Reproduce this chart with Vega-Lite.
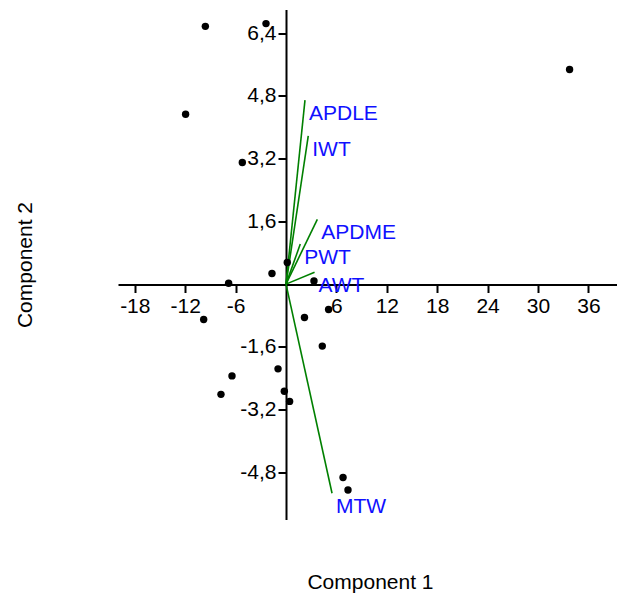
{
  "$schema": "https://vega.github.io/schema/vega-lite/v6.json",
  "width": 504,
  "height": 510,
  "autosize": {"type": "none"},
  "padding": {"left": 118, "top": 9.5, "right": 0, "bottom": 80},
  "background": "white",
  "config": {"view": {"stroke": null}, "font": "Liberation Sans"},
  "datasets": {
    "scores": [
      {"x": -9.6, "y": 6.57},
      {"x": -2.38, "y": 6.64},
      {"x": -11.95, "y": 4.33},
      {"x": -5.2, "y": 3.1},
      {"x": 0.15, "y": 0.55},
      {"x": -1.67, "y": 0.27},
      {"x": -6.83, "y": 0.02},
      {"x": 3.33, "y": 0.08},
      {"x": 33.76, "y": 5.47},
      {"x": -9.8, "y": -0.9},
      {"x": 2.2, "y": -0.85},
      {"x": 5.07, "y": -0.645},
      {"x": 4.32, "y": -1.58},
      {"x": -0.95, "y": -2.16},
      {"x": -6.43, "y": -2.34},
      {"x": -7.74, "y": -2.81},
      {"x": -0.2, "y": -2.73},
      {"x": 0.43, "y": -2.99},
      {"x": 6.79, "y": -4.93},
      {"x": 7.38, "y": -5.25}
    ],
    "loadings": [
      {"name": "APDLE", "x": 2.26, "y": 4.69, "x0": 0, "y0": 0},
      {"name": "IWT", "x": 2.65, "y": 3.78, "x0": 0, "y0": 0},
      {"name": "APDME", "x": 3.73, "y": 1.65, "x0": 0, "y0": 0},
      {"name": "PWT", "x": 1.7, "y": 1.02, "x0": 0, "y0": 0},
      {"name": "AWT", "x": 3.4, "y": 0.3, "x0": 0, "y0": 0},
      {"name": "MTW", "x": 5.48, "y": -5.33, "x0": 0, "y0": 0}
    ]
  },
  "encoding": {
    "x": {
      "field": "x", "type": "quantitative",
      "scale": {"domain": [-20, 40], "nice": false, "zero": false},
      "axis": {
        "title": "Component 1",
        "values": [-18, -12, -6, 6, 12, 18, 24, 30, 36],
        "labelExpr": "toString(datum.value)",
        "offset": -235,
        "grid": false,
        "domainColor": "black", "domainWidth": 2,
        "tickColor": "black", "tickWidth": 2, "tickSize": 8,
        "labelFontSize": 21, "labelColor": "black", "labelPadding": 3,
        "labelFlush": false, "labelOverlap": false,
        "titleFontSize": 21, "titleFontWeight": "normal", "titleColor": "black",
        "titleX": 252, "titleY": 304, "titleBaseline": "alphabetic", "titleAlign": "center"
      }
    },
    "y": {
      "field": "y", "type": "quantitative",
      "scale": {"domain": [-6, 7], "nice": false, "zero": false},
      "axis": {
        "title": "Component 2",
        "values": [-4.8, -3.2, -1.6, 1.6, 3.2, 4.8, 6.4],
        "labelExpr": "replace(toString(datum.value), '.', ',')",
        "offset": -168,
        "grid": false,
        "domainColor": "black", "domainWidth": 2,
        "tickColor": "black", "tickWidth": 2, "tickSize": 8,
        "labelFontSize": 21, "labelColor": "black", "labelPadding": 2,
        "labelFlush": false, "labelOverlap": false,
        "titleFontSize": 21, "titleFontWeight": "normal", "titleColor": "black",
        "titleX": -261, "titleY": 255, "titleAngle": -90, "titleBaseline": "middle", "titleAlign": "center"
      }
    }
  },
  "layer": [
    {
      "data": {"name": "loadings"},
      "mark": {"type": "rule", "color": "#008000", "strokeWidth": 1.6},
      "encoding": {"x2": {"field": "x0"}, "y2": {"field": "y0"}}
    },
    {
      "data": {"name": "loadings"},
      "mark": {"type": "text", "align": "left", "baseline": "top", "dx": 4, "dy": 3, "fontSize": 21, "color": "#1010ff"},
      "encoding": {"text": {"field": "name", "type": "nominal"}}
    },
    {
      "data": {"name": "scores"},
      "mark": {"type": "circle", "size": 55, "color": "black", "opacity": 1},
      "encoding": {}
    }
  ]
}
